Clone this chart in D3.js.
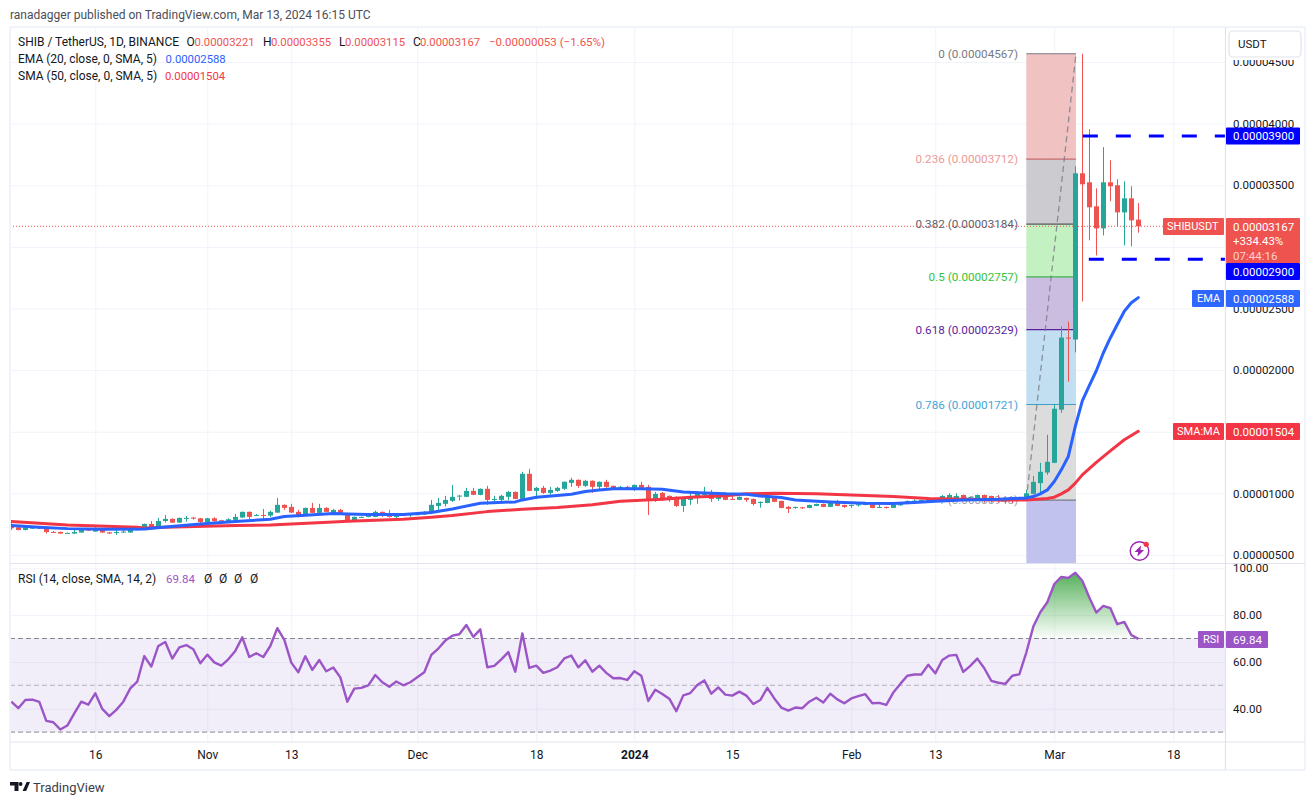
<!DOCTYPE html>
<html>
<head>
<meta charset="utf-8">
<script src="https://cdn.jsdelivr.net/npm/d3@7"></script>
<style>
  html, body { margin: 0; padding: 0; background: #fff; }
  text { font-family: Roboto, "Noto Sans", sans-serif; }
</style>
</head>
<body>
<svg width="1315" height="805"></svg>
<script>
// prices are in units of 0.00000001 USDT
const firstDay = "2023-10-04";
const lastDay = "2024-03-13";

const opens = [
  744,725,703,714,722,717,687,687,674,674,
  682,709,690,711,684,679,682,682,703,706,
  752,727,776,793,763,795,804,798,768,798,
  782,776,785,804,850,820,825,820,844,907,
  890,850,831,882,842,882,844,866,839,771,
  804,809,809,850,833,809,833,825,825,828,
  844,898,915,939,974,972,1020,988,1037,947,
  947,972,1012,955,1159,1020,1045,1004,1020,1037,
  1085,1110,1061,1102,1053,1094,1061,1037,1053,1028,
  1069,1053,947,1004,980,972,898,947,963,988,
  1012,955,988,955,947,963,955,922,922,971,
  939,890,882,887,882,898,914,890,922,906,
  898,903,909,914,884,890,882,903,914,931,
  931,925,960,939,955,960,987,952,952,987,
  979,960,960,966,952,961,996,1083,1169,1248,
  1679,2264,2248,3597,3524,3329,3150,3524,3500,3280,
  3394,3221];
const highs = [
  757,728,728,733,725,720,695,690,682,703,
  712,712,725,714,687,703,709,717,714,755,
  776,801,825,798,804,817,809,801,801,806,
  785,798,833,853,853,833,874,860,963,910,
  915,866,885,923,915,888,874,874,842,812,
  812,831,860,853,866,834,836,834,834,855,
  947,963,980,1069,988,1045,1045,1040,1061,980,
  988,1020,1015,1175,1199,1053,1061,1053,1053,1097,
  1126,1113,1110,1105,1097,1110,1064,1061,1061,1072,
  1094,1069,1012,1012,983,975,958,1012,1020,1053,
  1028,1012,1012,996,975,966,958,934,987,974,
  942,898,893,890,909,917,917,925,947,909,
  909,914,917,917,914,893,909,931,942,952,
  950,968,963,987,1001,1001,990,971,990,990,
  982,987,963,969,972,1028,1142,1248,1475,1727,
  2354,2394,3654,4567,3955,3475,3809,3703,3549,3532,
  3492,3355];
const lows = [
  703,700,700,712,712,674,679,672,672,672,
  680,696,688,680,672,663,680,680,700,704,
  722,725,763,760,760,771,787,757,766,768,
  763,774,782,802,790,818,782,809,842,866,
  842,806,829,840,840,848,842,837,768,769,
  802,806,807,809,804,798,815,809,823,826,
  842,866,893,931,942,970,985,985,907,931,
  920,947,953,950,1018,955,996,988,1012,1028,
  1053,1045,1053,1004,1028,1045,1028,1028,1028,1020,
  1042,825,931,939,931,890,850,907,915,980,
  931,939,944,948,945,931,901,884,920,928,
  880,841,874,874,880,896,888,888,896,882,
  882,893,903,880,880,877,880,901,912,929,
  929,923,939,937,953,958,950,950,950,925,
  925,925,920,920,950,958,990,988,1150,1245,
  1654,1906,2144,2557,3053,2931,3093,3370,3166,3012,
  3004,3115];
const closes = [
  717,703,725,730,714,687,682,674,679,687,
  709,698,711,682,674,687,690,706,709,752,
  725,776,793,763,801,801,795,768,798,776,
  776,790,809,850,809,825,820,850,907,882,
  844,823,882,842,882,850,866,839,771,809,
  809,828,850,825,809,831,817,831,831,850,
  907,923,947,972,982,1020,988,1037,947,955,
  980,1012,955,1159,1020,1045,1004,1028,1045,1094,
  1110,1061,1102,1053,1094,1053,1037,1053,1037,1069,
  1045,955,996,955,963,898,955,972,996,1012,
  955,988,947,950,972,947,914,931,971,931,
  882,874,890,882,906,914,890,922,898,890,
  906,912,914,882,890,884,906,922,939,941,
  947,963,941,979,987,979,947,968,987,960,
  947,947,947,947,966,1001,1093,1175,1256,1687,
  2264,2258,3597,3508,3321,3150,3524,3492,3280,3394,
  3215,3167];

// moving averages, read at the day offsets listed with them
const emaDays = [0,4,8,13,19,22,27,32,37,39,42,46,48,51,56,60,63,67,72,73,75,78,80,82,84,86,90,93,96,99,102,105,107,110,112,117,122,126,129,132,136,141,145,146,147,148,149,150,151,152,153,154,155,156,157,158,159,160,161];
const emaValues = [739,725,714,709,711,728,752,771,790,812,823,836,833,828,828,844,874,920,931,947,969,982,993,1015,1028,1037,1037,1034,1012,1004,996,993,979,966,947,931,920,917,925,936,947,952,963,974,996,1028,1096,1191,1299,1543,1750,1875,1995,2139,2261,2370,2478,2546,2588];
const smaDays = [0,8,18,19,22,32,37,46,48,56,60,63,68,73,78,83,87,93,97,102,105,109,115,122,126,131,136,141,145,148,149,150,151,152,153,155,157,159,161];
const smaValues = [771,744,725,720,725,739,744,768,774,790,806,820,852,871,885,907,936,953,969,980,996,1001,996,982,974,958,952,947,947,958,969,996,1028,1083,1150,1251,1345,1435,1504];

const rsiValues = [
  43.0,40.2,43.7,43.9,42.9,34.8,34.2,31.1,32.8,38.0,
  43.0,41.7,46.6,39.9,36.8,39.5,43.0,48.7,51.6,62.5,
  58.0,66.8,68.5,61.4,66.2,67.2,65.4,59.4,63.1,59.8,
  58.4,61.1,64.7,70.5,62.1,63.7,62.1,66.8,74.4,69.4,
  59.7,55.6,62.4,56.6,60.8,56.0,57.6,53.4,43.0,48.6,
  48.9,50.0,54.4,51.3,49.4,51.6,50.0,51.3,53.4,55.6,
  63.0,65.7,69.1,71.2,71.8,75.8,70.7,73.9,57.7,58.3,
  61.1,64.2,55.8,72.2,57.4,58.4,55.3,56.3,57.7,61.5,
  62.7,57.7,60.7,55.8,58.4,55.3,53.0,53.1,52.3,56.0,
  54.1,43.3,48.1,46.3,44.3,38.9,45.7,46.7,50.1,52.1,
  46.4,49.1,46.0,45.6,47.3,45.6,42.0,43.7,48.9,44.4,
  40.5,39.2,40.5,40.2,43.0,44.7,42.7,46.4,44.0,42.3,
  44.4,45.4,46.2,42.3,42.5,41.6,46.9,50.6,54.1,54.6,
  54.6,58.8,55.1,60.8,62.7,63.0,55.7,58.3,61.4,57.3,
  51.9,51.1,50.6,54.1,54.7,64.0,75.1,81.2,85.5,93.3,
  96.3,95.9,98.1,94.7,87.5,81.1,83.9,83.0,76.1,77.1,
  71.5,69.84];

const fibRatios = ["0","0.236","0.382","0.5","0.618","0.786","1"];
const fibPrices = [4567,3712,3184,2757,2329,1721,946];
const fibLines = ["#787b86","#c76a6a","#55555e","#3fb54a","#5b1f9e","#3e9fc9","#787b86"];
const fibFills = ["#f0c2c2","#cbcbd0","#c3f1c1","#cbbde0","#c2dff1","#dcdcdc","#c2c2ee"];
const fibText = ["#787b86","#ec9a96","#62626c","#36c43c","#5b1f9e","#45a5d6","#a0a3ac"];

const priceTicks = [500,1000,1500,2000,2500,3000,3500,4000,4500];
const rsiTicks = [100,80,60,40];
const timeDates = ["2023-10-16","2023-11-01","2023-11-13","2023-12-01","2023-12-18","2024-01-01","2024-01-15","2024-02-01","2024-02-13","2024-03-01","2024-03-18"];
const timeLabels = ["16","Nov","13","Dec","18","2024","15","Feb","13","Mar","18"];
const resistance = 3900, support = 2900, lastClose = 3167;

const UP = "#26a69a", DOWN = "#ef5350", EMA = "#2962ff", SMA = "#f23645", RSI = "#9c55c6";
const GRID = "#f0f3fa", BORDER = "#e0e3eb", INK = "#131722";
const paneLeft = 10, axisX = 1225.5, frameRight = 1305, paneTop = 27, priceBottom = 563.5, rsiTop = 564.5, rsiBottom = 742, frameBottom = 770;

const svg = d3.select("svg");
const day = i => d3.utcDay.offset(new Date(firstDay), i);
const x = d3.scaleUtc().domain([new Date(firstDay), new Date(lastDay)]).range([11.3, 1138.3]);
const y = d3.scaleLinear().domain([500, 4500]).range([555, 62]);
const yRsi = d3.scaleLinear().domain([100, 30]).range([568.3, 732.1]);
const fmt = v => (v * 1e-8).toFixed(8);

const defs = svg.append("defs");
defs.append("clipPath").attr("id", "pricePane").append("rect")
  .attr("x", paneLeft).attr("y", paneTop).attr("width", axisX - paneLeft).attr("height", priceBottom - paneTop);
defs.append("clipPath").attr("id", "rsiPane").append("rect")
  .attr("x", paneLeft).attr("y", rsiTop).attr("width", axisX - paneLeft).attr("height", rsiBottom - rsiTop);
defs.append("clipPath").attr("id", "above70").append("rect")
  .attr("x", paneLeft).attr("y", rsiTop).attr("width", axisX - paneLeft).attr("height", yRsi(70) - rsiTop);
const grad = defs.append("linearGradient").attr("id", "rsiGreen")
  .attr("gradientUnits", "userSpaceOnUse").attr("x1", 0).attr("x2", 0).attr("y1", yRsi(100)).attr("y2", yRsi(70));
grad.append("stop").attr("offset", 0).attr("stop-color", "#3fa545").attr("stop-opacity", 0.95);
grad.append("stop").attr("offset", 1).attr("stop-color", "#4caf50").attr("stop-opacity", 0.02);

// grids come from the axes themselves
const timeAxis = d3.axisBottom(x)
  .tickValues(timeDates.map(d => new Date(d)))
  .tickFormat((d, i) => timeLabels[i])
  .tickSize(-(rsiBottom - paneTop)).tickPadding(8);
const gTime = svg.append("g").attr("transform", `translate(0,${rsiBottom})`).call(timeAxis);
gTime.select(".domain").remove();
gTime.selectAll("line").attr("stroke", GRID);
gTime.selectAll("text").attr("fill", INK).attr("font-size", 12)
  .attr("font-weight", (d, i) => timeLabels[i] == "2024" ? 700 : 400);

const priceGrid = d3.axisLeft(y).tickValues(priceTicks).tickSize(-(axisX - paneLeft)).tickFormat("");
const gPriceGrid = svg.append("g").attr("transform", `translate(${paneLeft},0)`).call(priceGrid);
gPriceGrid.select(".domain").remove();
gPriceGrid.selectAll("line").attr("stroke", GRID);

const rsiGrid = d3.axisLeft(yRsi).tickValues(rsiTicks).tickSize(0).tickFormat("");
const gRsiGrid = svg.append("g").call(rsiGrid);
gRsiGrid.select(".domain").remove();
gRsiGrid.selectAll("line").attr("stroke", GRID).attr("x1", paneLeft).attr("x2", axisX);

// RSI band
svg.append("rect").attr("x", paneLeft).attr("width", axisX - paneLeft)
  .attr("y", yRsi(70)).attr("height", yRsi(30) - yRsi(70)).attr("fill", "#7e57c2").attr("fill-opacity", 0.1);

// fib block
const fib = svg.append("g").attr("clip-path", "url(#pricePane)");
const fibX0 = x(day(145)), fibX1 = x(day(152)) + 0.7;
fibPrices.forEach((p, i) => {
  const yTop = y(p);
  const yBot = i < fibPrices.length - 1 ? y(fibPrices[i + 1]) : priceBottom;
  fib.append("rect").attr("x", fibX0).attr("width", fibX1 - fibX0)
    .attr("y", yTop).attr("height", yBot - yTop).attr("fill", fibFills[i]);
});
fibPrices.forEach((p, i) => {
  fib.append("line").attr("x1", fibX0).attr("x2", fibX1).attr("y1", y(p)).attr("y2", y(p))
    .attr("stroke", fibLines[i]).attr("stroke-width", 1.2);
  fib.append("text").attr("x", 1018).attr("y", y(p)).attr("dy", "0.35em").attr("text-anchor", "end")
    .attr("font-size", 11.7).attr("fill", fibText[i]).text(`${fibRatios[i]} (${fmt(p)})`);
});
fib.append("line").attr("x1", fibX0).attr("y1", y(946)).attr("x2", fibX1).attr("y2", y(4567))
  .attr("stroke", "#787b86").attr("stroke-opacity", 0.8).attr("stroke-width", 1.3).attr("stroke-dasharray", "6,4");

// candles
const candles = svg.append("g").attr("clip-path", "url(#pricePane)");
const idx = d3.range(opens.length);
const col = i => closes[i] >= opens[i] ? UP : DOWN;
candles.selectAll("line.wick").data(idx).join("line").attr("class", "wick")
  .attr("x1", i => Math.floor(x(day(i))) + 0.5).attr("x2", i => Math.floor(x(day(i))) + 0.5)
  .attr("y1", i => y(highs[i])).attr("y2", i => y(lows[i])).attr("stroke", col);
candles.selectAll("rect.body").data(idx).join("rect").attr("class", "body")
  .attr("x", i => Math.floor(x(day(i))) - 2).attr("width", 5)
  .attr("y", i => y(Math.max(opens[i], closes[i])))
  .attr("height", i => Math.max(1, Math.abs(y(opens[i]) - y(closes[i])))).attr("fill", col);

// moving averages
const maLine = d3.line().x(d => x(day(d[0]))).y(d => y(d[1]));
candles.append("path").attr("d", maLine(d3.zip(smaDays, smaValues))).attr("fill", "none").attr("stroke", SMA).attr("stroke-width", 3).attr("stroke-linecap", "round").attr("stroke-linejoin", "round");
candles.append("path").attr("d", maLine(d3.zip(emaDays, emaValues))).attr("fill", "none").attr("stroke", EMA).attr("stroke-width", 3).attr("stroke-linecap", "round").attr("stroke-linejoin", "round");

// last price and the two drawn levels
svg.append("line").attr("x1", paneLeft).attr("x2", axisX).attr("y1", y(lastClose)).attr("y2", y(lastClose))
  .attr("stroke", DOWN).attr("stroke-dasharray", "1,2");
svg.append("line").attr("x1", x(day(153)) + 0.5).attr("x2", axisX).attr("y1", y(resistance)).attr("y2", y(resistance))
  .attr("stroke", "#0000ff").attr("stroke-width", 3).attr("stroke-dasharray", "15,18");
svg.append("line").attr("x1", x(day(154)) - 0.5).attr("x2", axisX).attr("y1", y(support)).attr("y2", y(support))
  .attr("stroke", "#0000ff").attr("stroke-width", 3).attr("stroke-dasharray", "15,18");

// RSI pane
const rsiPane = svg.append("g").attr("clip-path", "url(#rsiPane)");
[[70, 0.9], [50, 0.5], [30, 0.9]].forEach(([lvl, op]) => {
  rsiPane.append("line").attr("x1", paneLeft).attr("x2", axisX).attr("y1", yRsi(lvl)).attr("y2", yRsi(lvl))
    .attr("stroke", "#787b86").attr("stroke-opacity", op).attr("stroke-dasharray", "5,3");
});
rsiPane.append("path")
  .attr("d", d3.area().x((d, i) => x(day(i))).y0(yRsi(70)).y1(d => yRsi(d))(rsiValues))
  .attr("fill", "url(#rsiGreen)").attr("clip-path", "url(#above70)");
rsiPane.append("path")
  .attr("d", d3.line().x((d, i) => x(day(i))).y(d => yRsi(d))(rsiValues))
  .attr("fill", "none").attr("stroke", RSI).attr("stroke-width", 2.4).attr("stroke-linejoin", "round");

// frame and axis borders
[[paneLeft, paneTop, frameRight, paneTop], [paneLeft, paneTop, paneLeft, frameBottom], [paneLeft, frameBottom, frameRight, frameBottom], [frameRight, paneTop, frameRight, frameBottom]]
  .forEach(s => svg.append("line").attr("x1", s[0]).attr("y1", s[1]).attr("x2", s[2]).attr("y2", s[3]).attr("stroke", GRID).attr("stroke-width", 2));
[[paneLeft, 563.5, frameRight, 563.5], [paneLeft, rsiBottom, frameRight, rsiBottom], [axisX, paneTop, axisX, frameBottom]]
  .forEach(s => svg.append("line").attr("x1", s[0]).attr("y1", s[1]).attr("x2", s[2]).attr("y2", s[3]).attr("stroke", BORDER).attr("stroke-width", 1.2));

// value axes; the 3000 label is hidden behind the last-price tag in the original
const gPrice = svg.append("g").attr("transform", `translate(${axisX},0)`)
  .call(d3.axisRight(y).tickValues(priceTicks.filter(d => d != 3000)).tickSize(0).tickPadding(7.5).tickFormat(fmt));
gPrice.select(".domain").remove();
gPrice.selectAll("text").attr("font-size", 11.5).attr("fill", INK);
const gRsi = svg.append("g").attr("transform", `translate(${axisX},0)`)
  .call(d3.axisRight(yRsi).tickValues(rsiTicks).tickSize(0).tickPadding(7.5).tickFormat(d => d.toFixed(2)));
gRsi.select(".domain").remove();
gRsi.selectAll("text").attr("font-size", 11.5).attr("fill", INK);

// USDT button sits over the top tick
svg.append("rect").attr("x", axisX + 1).attr("y", paneTop + 1).attr("width", frameRight - axisX - 2).attr("height", 32).attr("fill", "#fff");
svg.append("rect").attr("x", 1229).attr("y", 31).attr("width", 72).attr("height", 26).attr("rx", 4)
  .attr("fill", "#fff").attr("stroke", BORDER).attr("stroke-width", 1.2);
svg.append("text").attr("x", 1238).attr("y", 44).attr("dy", "0.35em").attr("font-size", 11.5).attr("fill", INK).text("USDT");

// tags on the axis
function tag(x0, x1, yTop, yBot, fill, label, textX, size) {
  svg.append("rect").attr("x", x0).attr("y", yTop).attr("width", x1 - x0).attr("height", yBot - yTop).attr("fill", fill).attr("rx", 1);
  if (label) svg.append("text").attr("x", textX).attr("y", (yTop + yBot) / 2).attr("dy", "0.35em")
    .attr("font-size", size || 11.5).attr("fill", "#fff").text(label);
}
tag(1226, 1300, y(resistance) - 8.5, y(resistance) + 8.5, "#0000ff", fmt(resistance), 1233);
tag(1226, 1300, 218, 263, DOWN, null);
svg.selectAll("text.last").data([fmt(lastClose), "+334.43%", "07:44:16"]).join("text").attr("class", "last")
  .attr("x", 1233).attr("y", (d, i) => 226.5 + i * 14.5).attr("dy", "0.35em").attr("font-size", 11.5)
  .attr("fill", (d, i) => i == 2 ? "#fbd0cf" : "#fff").text(d => d);
tag(1163, 1224, 218, 235, DOWN, "SHIBUSDT", 1167, 11);
tag(1226, 1300, 263, 280, "#0000ff", fmt(support), 1233);
tag(1192, 1224, 290, 307, "#2e67ff", "EMA", 1197, 11);
tag(1226, 1300, 290, 307, "#2e67ff", fmt(2588), 1233);
tag(1173, 1224, 423, 440, SMA, "SMA:MA", 1177, 11);
tag(1226, 1300, 423, 440, SMA, fmt(1504), 1233);
tag(1198, 1224, 631, 648, RSI, "RSI", 1203, 11);
tag(1226, 1268, 631, 648, RSI, "69.84", 1233);

// legends
function legend(items, yPos) {
  items.forEach(d => svg.append("text").attr("x", d[0]).attr("y", yPos).attr("dy", "0.35em")
    .attr("font-size", d[3] || 12).attr("fill", d[2] || INK).text(d[1]));
}
legend([[10, "ranadagger published on TradingView.com, Mar 13, 2024 16:15 UTC", "#4a4e59"]], 15);
legend([[18, "SHIB / TetherUS, 1D, BINANCE"], [186.5, "O"], [194.5, fmt(3221), DOWN, 11.3], [263, "H"], [271, fmt(3355), DOWN, 11.3],
  [339, "L"], [345, fmt(3115), DOWN, 11.3], [413, "C"], [420, fmt(3167), DOWN, 11.3], [489, "−0.00000053 (−1.65%)", DOWN, 11.5]], 42);
legend([[18, "EMA (20, close, 0, SMA, 5)"], [165.6, fmt(2588), EMA, 11.3]], 59);
legend([[18, "SMA (50, close, 0, SMA, 5)"], [165, fmt(1504), SMA, 11.3]], 76);
legend([[18, "RSI (14, close, SMA, 14, 2)"], [166, "69.84", RSI, 11.5], [204, "Ø"], [219, "Ø"], [234, "Ø"], [250, "Ø"]], 579);

// TradingView mark
svg.append("path").attr("fill", INK).attr("d", "M10 782h8.5v9h-4v-5.5H10z M22.6 791l4-9h3.4l-3.8 9z");
svg.append("circle").attr("cx", 20.6).attr("cy", 784).attr("r", 1.9).attr("fill", INK);
svg.append("text").attr("x", 33).attr("y", 787).attr("dy", "0.35em").attr("font-size", 13).attr("fill", "#3a3e49").text("TradingView");

// lightning badge
const badge = svg.append("g").attr("transform", "translate(1139.5,551)");
badge.append("circle").attr("r", 9.3).attr("fill", "#fff").attr("stroke", "#9c27b0").attr("stroke-width", 1.4);
badge.append("path").attr("fill", "#9c27b0").attr("d", "M1.5 -5.5L-5 1h3.5L-2 5.5L4.5 -1H1z");
badge.append("circle").attr("cx", 6.7).attr("cy", -6.7).attr("r", 2.6).attr("fill", SMA);
</script>
</body>
</html>
